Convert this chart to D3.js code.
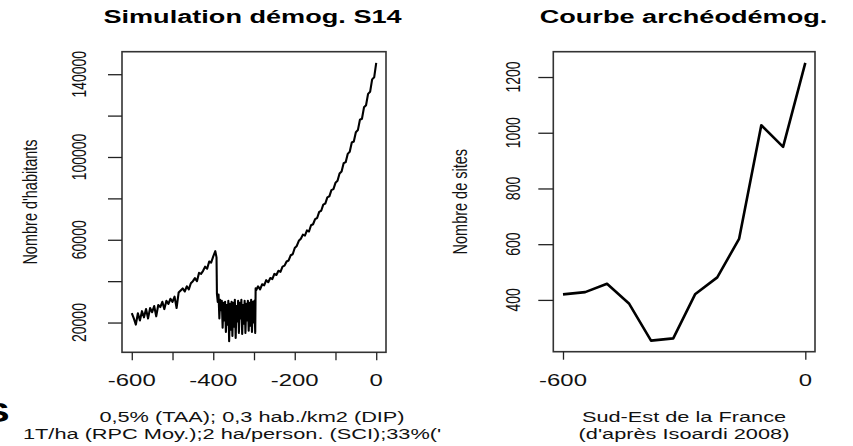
<!DOCTYPE html>
<html>
<head>
<meta charset="utf-8">
<script src="https://cdn.jsdelivr.net/npm/d3@7"></script>
<style>
  body { margin: 0; background: #fff; }
  svg { display: block; font-family: "Liberation Sans", Arial, sans-serif; }
</style>
</head>
<body>
<div id="chart"></div>
<script>
const width = 853; const height = 446;
const sx = 1.45; // picture is stretched horizontally

// --- left panel : simulation (years, inhabitants)
const simYears = [
  -600,-595,-590,-585,-580,-575,-570,-565,-560,-555,-550,-545,-540,-535,-530,-525,-520,-515,-510,-505,
  -500,-495,-490,-485,-480,-475,-470,-465,-460,-455,-450,-445,-440,-435,-430,-425,-420,-415,-410,-405,
  -400,-395,-392,
  -391,-389,-387,-385,-383,-381,-379,-377,-375,-373,-371,-369,-367,-365,-363,-361,-359,-357,-355,-353,
  -351,-349,-347,-345,-343,-341,-339,-337,-335,-333,-331,-329,-327,-325,-323,-321,-319,-317,-315,-313,
  -311,-309,-307,-305,-303,-301,-299,-297,
  -296,-295,-290,-285,-280,-275,-270,-265,-260,-255,-250,-245,-240,-235,-230,-225,-220,-215,-210,-205,
  -200,-195,-190,-185,-180,-175,-170,-165,-160,-155,-150,-145,-140,-135,-130,-125,-120,-115,-110,-105,
  -100,-95,-90,-85,-80,-75,-70,-65,-60,-55,-50,-45,-40,-35,-30,-25,-20,-15,-10,-5,0
];
const simValues = [
  24500,22000,19000,24500,21000,25500,22500,26500,22000,27000,25000,28000,23000,28500,27500,30000,26500,30500,29000,31500,
  30000,32500,27000,34500,35500,36500,35000,37500,36000,39000,40000,41500,40000,44000,43500,45000,47000,46000,49500,49000,
  52000,54500,51500,
  34000,30000,33500,22000,31000,26000,30500,17500,29500,21000,30000,15500,28500,19000,30500,11000,29000,16500,30000,13500,
  29500,18000,31000,12500,28000,20500,30500,15000,29500,22000,31000,14500,28500,19500,30500,15000,29000,21000,30500,16000,
  29500,18500,31000,15500,30000,20000,30500,15000,
  36500,35500,37500,36000,38500,38000,40500,39500,41500,41000,43500,43000,45000,44500,47000,47500,49500,50000,52500,53000,
  56000,57000,59500,60500,62500,62000,64500,64000,67000,67500,70000,70500,73500,74000,77000,77500,80500,81000,84000,84500,
  87500,88500,92000,93000,97000,97500,101500,102500,107000,107500,112000,113000,118000,118500,124000,125000,130500,131500,137500,138500,145500
];
const simXTicks = [-600, -500, -400, -300, -200, -100, 0];
const simXLabels = [-600, -400, -200, 0];
const simYTicks = [20000, 40000, 60000, 80000, 100000, 120000, 140000];
const simYLabels = [20000, 60000, 100000, 140000];

// --- right panel : archaeological sites
const siteYears = [-600, -545, -491, -436, -382, -327, -273, -218, -164, -109, -55, 0];
const siteValues = [420, 428, 458, 386, 254, 262, 420, 481, 619, 1027, 949, 1251];
const siteXTicks = [-600, 0];
const siteYTicks = [400, 600, 800, 1000, 1200];

let svg = d3.select('#chart')
  .append('svg')
    .attr('width', width)
    .attr('height', height);

// text with the horizontal stretch of the picture
function label(x, y, str, o) {
  o = o || {};
  let t = `translate(${x},${y}) scale(${sx},1)`;
  if (o.rotate) t += ` rotate(${o.rotate})`;
  return svg.append('text')
    .attr('transform', t)
    .attr('text-anchor', o.anchor || 'middle')
    .attr('font-size', o.size || 14)
    .attr('font-weight', o.weight || 'normal')
    .attr('fill', o.color || '#111')
    .text(str);
}

// R-like extended domain (4% each side)
function rDomain(vals) {
  const [a, b] = d3.extent(vals);
  const r = b - a;
  return [a - 0.04 * r, b + 0.04 * r];
}

function panel(p) {
  const x = d3.scaleLinear().domain(rDomain(p.xs)).range([p.left, p.right]);
  const y = d3.scaleLinear().domain(rDomain(p.ys)).range([p.bottom, p.top]);

  // line
  svg.append('path')
    .datum(p.xs.map((d, i) => [d, p.ys[i]]))
    .attr('fill', 'none')
    .attr('stroke', '#000')
    .attr('stroke-width', p.lw)
    .attr('stroke-linejoin', 'round')
    .attr('d', d3.line().x(d => x(d[0])).y(d => y(d[1])));

  // box
  svg.append('rect')
    .attr('x', p.left).attr('y', p.top)
    .attr('width', p.right - p.left).attr('height', p.bottom - p.top)
    .attr('fill', 'none').attr('stroke', '#333').attr('stroke-width', 1.6);

  // axes (tick marks only)
  svg.append('g')
    .attr('transform', `translate(0,${p.bottom})`)
    .call(d3.axisBottom(x).tickValues(p.xTicks).tickSize(8).tickFormat(''))
    .call(g => g.select('.domain').remove())
    .call(g => g.selectAll('line').attr('stroke', '#222').attr('stroke-width', 1.3));
  svg.append('g')
    .attr('transform', `translate(${p.left},0)`)
    .call(d3.axisLeft(y).tickValues(p.yTicks).tickSize(p.yTickLen).tickFormat(''))
    .call(g => g.select('.domain').remove())
    .call(g => g.selectAll('line').attr('stroke', '#222').attr('stroke-width', 1.3));

  p.xLabels.forEach(v => label(x(v), 386, v, {size: 16.5}));
  p.yLabels.forEach(v => label(p.yLabX, y(v), v, {size: 14, rotate: -90}));

  const cx = (p.left + p.right) / 2;
  label(p.titleX || cx, 23, p.title, {size: 18.7, weight: 'bold', color: '#000'});
  label(p.ylabX, (p.top + p.bottom) / 2, p.ylab, {size: 14.5, rotate: -90});
}

panel({
  xs: simYears, ys: simValues,
  left: 122, right: 386, top: 51.7, bottom: 352.3, lw: 2.1,
  xTicks: simXTicks, xLabels: simXLabels, yTicks: simYTicks, yLabels: simYLabels,
  yTickLen: 14, yLabX: 86, ylabX: 36.5, titleX: 252.5,
  title: 'Simulation démog. S14', ylab: "Nombre d'habitants"
});

panel({
  xs: siteYears, ys: siteValues,
  left: 553.3, right: 815, top: 51.7, bottom: 351.7, lw: 2.6,
  xTicks: siteXTicks, xLabels: siteXTicks, yTicks: siteYTicks, yLabels: siteYTicks,
  yTickLen: 15, yLabX: 520, ylabX: 466.5, titleX: 683.5,
  title: 'Courbe archéodémog.', ylab: 'Nombre de sites'
});

// bottom notes
label(252, 421.5, '0,5% (TAA); 0,3 hab./km2 (DIP)', {size: 15});
label(23, 438.5, "1T/ha (RPC Moy.);2 ha/person. (SCI);33%('", {size: 15, anchor: 'start'});
label(684, 422, 'Sud-Est de la France', {size: 15});
label(684, 438.5, "(d'après Isoardi 2008)", {size: 15});

// letter cut off at the left edge, as in the source picture
label(9.5, 422, 'S', {size: 27, weight: 'bold', anchor: 'end', color: '#000'});
</script>
</body>
</html>
